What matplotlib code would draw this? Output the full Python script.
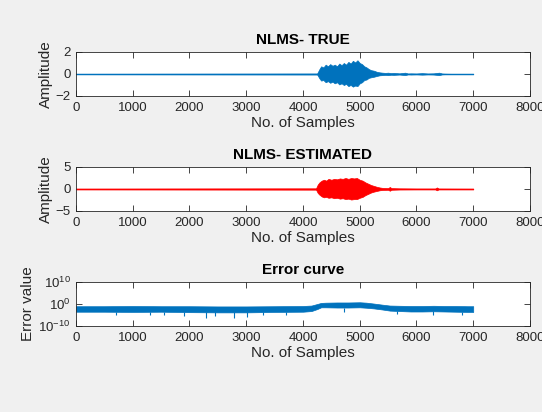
import numpy as np
import matplotlib
matplotlib.use("Agg")
import matplotlib.pyplot as plt
from matplotlib.ticker import FixedLocator, NullLocator

plt.rcParams['font.family'] = ['Liberation Sans', 'DejaVu Sans']
plt.rcParams['mathtext.fontset'] = 'custom'
plt.rcParams['mathtext.rm'] = 'Liberation Sans'

# envelope of the true signal
true_x = [1, 4250, 4290, 4320, 4360, 4400, 4440, 4480, 4520, 4560, 4600, 4640,
          4680, 4720, 4760, 4800, 4840, 4880, 4920, 4960, 5000, 5040, 5080, 5120,
          5160, 5200, 5250, 5300, 5350, 5400, 5450, 5500, 5550, 5600, 5700, 5800,
          5850, 5900, 6000, 6100, 6200, 6300, 6400, 6450, 6500, 6600, 7000]
true_hi = [0.03, 0.05, 0.45, 0.7, 0.6, 0.85, 0.7, 0.9, 0.75, 0.85, 0.7, 0.95,
           0.8, 1.0, 0.85, 1.1, 0.95, 1.2, 1.05, 1.25, 1.0, 0.9, 0.7, 0.6,
           0.45, 0.35, 0.3, 0.2, 0.15, 0.12, 0.1, 0.12, 0.08, 0.1, 0.06, 0.12,
           0.05, 0.06, 0.05, 0.08, 0.05, 0.06, 0.12, 0.05, 0.04, 0.03, 0.03]
true_lo = [-0.03, -0.05, -0.4, -0.6, -0.55, -0.75, -0.65, -0.8, -0.7, -0.85, -0.75, -0.95,
           -0.85, -1.0, -0.9, -1.1, -1.0, -1.15, -1.05, -1.1, -0.85, -0.75, -0.55, -0.5,
           -0.35, -0.3, -0.25, -0.18, -0.12, -0.1, -0.08, -0.1, -0.07, -0.08, -0.05, -0.1,
           -0.04, -0.05, -0.04, -0.06, -0.04, -0.05, -0.1, -0.04, -0.03, -0.03, -0.03]

# envelope of the estimated signal
est_x = [1, 4230, 4260, 4290, 4330, 4370, 4410, 4450, 4500, 4550, 4600, 4650,
         4700, 4750, 4800, 4850, 4900, 4950, 5000, 5050, 5100, 5150, 5200, 5250,
         5300, 5350, 5400, 5500, 5530, 5560, 5700, 6000, 6330, 6360, 6390, 7000]
est_hi = [0.1, 0.15, 1.0, 1.5, 1.9, 2.1, 1.9, 2.3, 2.1, 2.3, 2.2, 2.4,
          2.3, 2.5, 2.3, 2.5, 2.4, 2.5, 2.1, 1.9, 1.5, 1.2, 0.9, 0.7,
          0.5, 0.35, 0.25, 0.2, 0.45, 0.2, 0.15, 0.12, 0.12, 0.35, 0.12, 0.1]
est_lo = [-0.1, -0.15, -0.9, -1.3, -1.7, -1.9, -1.8, -2.0, -1.9, -2.1, -2.0, -2.2,
          -2.1, -2.3, -2.2, -2.4, -2.3, -2.3, -2.0, -1.8, -1.4, -1.1, -0.8, -0.6,
          -0.45, -0.3, -0.22, -0.18, -0.4, -0.18, -0.12, -0.1, -0.1, -0.3, -0.1, -0.1]

# error curve band, as powers of ten
err_x = [1, 500, 1000, 1500, 2000, 2500, 3000, 3500, 4000, 4150, 4250, 4320,
         4400, 4600, 4800, 5000, 5120, 5250, 5400, 5530, 5700, 5900, 6100, 6300,
         6500, 6700, 6900, 7000]
err_hi = [-1.0, -1.0, -0.9, -1.0, -1.0, -1.1, -1.1, -1.0, -0.9, -0.7, 0.0, 0.5,
          0.6, 0.7, 0.7, 0.8, 0.6, 0.2, -0.3, -0.7, -0.8, -0.9, -0.9, -0.8,
          -0.9, -0.9, -1.0, -1.0]
err_lo = [-3.5, -3.5, -3.6, -3.5, -3.7, -3.8, -3.8, -3.6, -3.5, -3.2, -2.3, -1.5,
          -1.5, -1.6, -1.6, -1.5, -1.7, -2.0, -2.5, -3.0, -3.2, -3.4, -3.4, -3.3,
          -3.4, -3.5, -3.6, -3.6]
dip_x = [700, 1300, 1550, 1900, 2290, 2450, 2790, 3020, 3300, 3700, 4720, 5650, 6300, 6800]
dip_y = [-5.0, -5.2, -4.8, -5.5, -6.2, -5.5, -6.5, -5.8, -5.0, -5.2, -3.5, -4.6, -4.8, -5.0]

x_ticks = [0, 1000, 2000, 3000, 4000, 5000, 6000, 7000, 8000]

blue = '#0072BD'
red = '#FF0000'
dark = '#262626'

fig = plt.figure(figsize=(5.42, 4.12), dpi=100, facecolor='#F0F0F0')
left, width, height = 0.1402, 0.8376, 0.1068
ax1 = fig.add_axes([left, 0.767, width, height])
ax2 = fig.add_axes([left, 0.4879, width, height])
ax3 = fig.add_axes([left, 0.2087, width, height])


def style(ax, title, ylabel):
    ax.set_xlim(0, 8000)
    ax.set_xticks(x_ticks)
    ax.set_title(title, fontsize=11, fontweight='bold', color='black', pad=6)
    ax.set_xlabel('No. of Samples', fontsize=11, color=dark, labelpad=2)
    ax.set_ylabel(ylabel, fontsize=11, color=dark, labelpad=2)
    ax.tick_params(direction='in', top=True, right=True, length=4, width=0.6,
                   labelsize=9.5, colors=dark, pad=4)
    for s in ax.spines.values():
        s.set_color(dark)
        s.set_linewidth(0.6)


ax1.fill_between(true_x, true_lo, true_hi, color=blue, lw=0.5)
ax1.plot([true_x[0], true_x[-1]], [0, 0], color=blue, lw=0.8)
ax1.set_ylim(-2, 2)
ax1.set_yticks([-2, 0, 2])
style(ax1, 'NLMS- TRUE', 'Amplitude')

ax2.fill_between(est_x, est_lo, est_hi, color=red, lw=0.5)
ax2.plot([est_x[0], est_x[-1]], [0, 0], color=red, lw=0.8)
ax2.set_ylim(-5, 5)
ax2.set_yticks([-5, 0, 5])
style(ax2, 'NLMS- ESTIMATED', 'Amplitude')

ax3.set_yscale('log')
ax3.fill_between(err_x, np.power(10.0, err_lo), np.power(10.0, err_hi), color=blue, lw=0.5)
lo_at_dip = np.interp(dip_x, err_x, err_lo)
ax3.vlines(dip_x, np.power(10.0, dip_y), np.power(10.0, lo_at_dip), color=blue, lw=0.8)
ax3.set_ylim(1e-10, 1e10)
ax3.yaxis.set_major_locator(FixedLocator([1e-10, 1e0, 1e10]))
ax3.yaxis.set_minor_locator(NullLocator())
style(ax3, 'Error curve', 'Error value')

fig.savefig('out.png', dpi=100, facecolor=fig.get_facecolor())
